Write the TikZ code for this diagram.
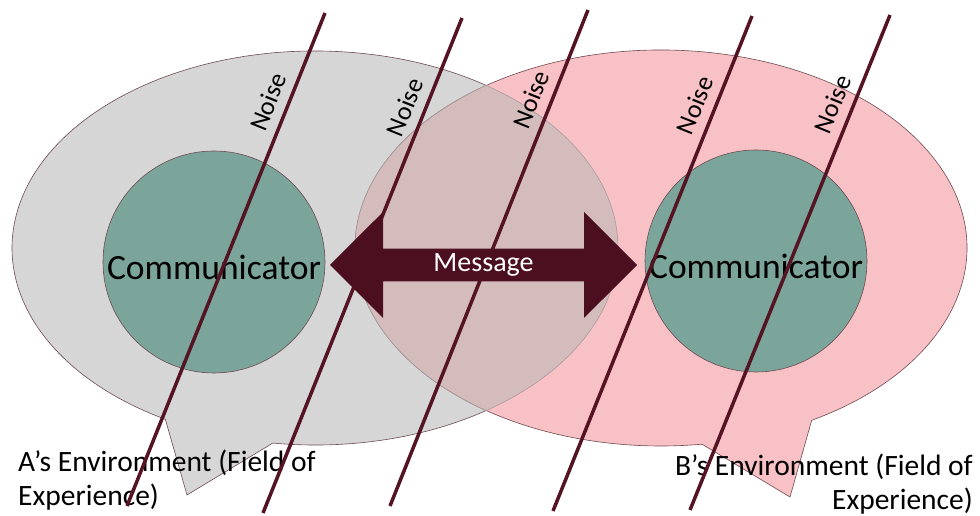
\documentclass[tikz,border=0pt]{standalone}
\usepackage{fontspec}
\setmainfont{Carlito}
\usetikzlibrary{shapes.arrows, positioning}

\definecolor{envgray}{HTML}{D6D6D6}
\definecolor{envpink}{HTML}{F8C1C5}
\definecolor{envmix}{HTML}{D4BCBD}
\definecolor{commteal}{HTML}{7BA59B}
\definecolor{noisered}{HTML}{551424}
\definecolor{msgred}{HTML}{4B0F1F}
\definecolor{edgebrown}{HTML}{6E4A50}
\definecolor{mixedge}{HTML}{A89A9B}

\begin{document}
\begin{tikzpicture}[x=1pt, y=1pt,
      callout/.style={draw=edgebrown, line width=0.6pt},
      commcircle/.style={circle, draw=edgebrown, line width=0.6pt, fill=commteal,
      minimum size=222pt, inner sep=0pt, text height=36pt, text depth=0pt,
      font=\fontsize{35.5pt}{40pt}\selectfont},
      noiseline/.style={line width=3.5pt, noisered},
      noiselabel/.style={sloped, above=7pt, inner sep=2pt, text=black,
      font=\fontsize{26pt}{30pt}\selectfont},
      msgarrow/.style={double arrow, fill=msgred, text=white, inner sep=0pt,
      minimum height=307pt, minimum width=106pt, double arrow head extend=26pt,
      font=\fontsize{28pt}{32pt}\selectfont},
      envlabel/.style={font=\fontsize{29.5pt}{34pt}\selectfont, inner sep=0pt} ]
    \useasboundingbox (0,0) rectangle (980,516);

    % Environments (speech bubbles)
    \coordinate (gc) at (315,268); \coordinate (pc) at (661,268);
    \coordinate (gtip) at (187,21); \coordinate (ptip) at (790,19);
    \path (gc) ++(262:303 and 197) coordinate (gstart);
    \path (pc) ++(299.5:306 and 198) coordinate (pstart);
    \draw[callout, fill=envgray] (gstart) arc[start angle=262, end
    angle=600.4, x radius=303, y radius=197] -- (gtip) -- cycle;
    \draw[callout, fill=envpink] (pstart) arc[start angle=299.5, end
    angle=637.7, x radius=306, y radius=198] -- (ptip) -- cycle;

    % Overlap of the two fields
    \begin{scope}
      \clip (gc) ellipse[x radius=303, y radius=197];
      \fill[envmix] (pc) ellipse[x radius=306, y radius=198];
      \draw[mixedge, line width=0.6pt] (pc) ellipse[x radius=306, y radius=198];
    \end{scope}
    \begin{scope}
      \clip (pc) ellipse[x radius=306, y radius=198];
      \draw[mixedge, line width=0.6pt] (gc) ellipse[x radius=303, y radius=197];
    \end{scope}

    % Communicators
    \node[commcircle] (commA) at (214,254) {Communicator};
    \node[commcircle] (commB) at (756,255) {Communicator};

    % Environment labels
    \node[envlabel, anchor=north west, align=left] (envA) at (18,66)
    {A’s Environment (Field of\\Experience)};
    \node[envlabel, anchor=north east, align=right] (envB) at (973,62)
    {B’s Environment (Field of\\Experience)};

    % Noise lines
    \coordinate (n1a) at (127,10); \coordinate (n1b) at (325,503);
    \coordinate (n2a) at (263,3); \coordinate (n2b) at (462,498);
    \coordinate (n3a) at (390,10); \coordinate (n3b) at (588,506);
    \coordinate (n4a) at (553,5); \coordinate (n4b) at (752,500);
    \coordinate (n5a) at (690,6); \coordinate (n5b) at (890,501);
    \draw[noiseline] (n1a) -- (n1b) node[noiselabel, pos=.805] {Noise};
    \draw[noiseline] (n2a) -- (n2b) node[noiselabel, pos=.805] {Noise};
    \draw[noiseline] (n3a) -- (n3b) node[noiselabel, pos=.805] {Noise};
    \draw[noiseline] (n4a) -- (n4b) node[noiselabel, pos=.805] {Noise};
    \draw[noiseline] (n5a) -- (n5b) node[noiselabel, pos=.805] {Noise};

    % Message between the communicators
    \node[msgarrow] (msg) at (483.5,251) {Message};
\end{tikzpicture}
\end{document}
